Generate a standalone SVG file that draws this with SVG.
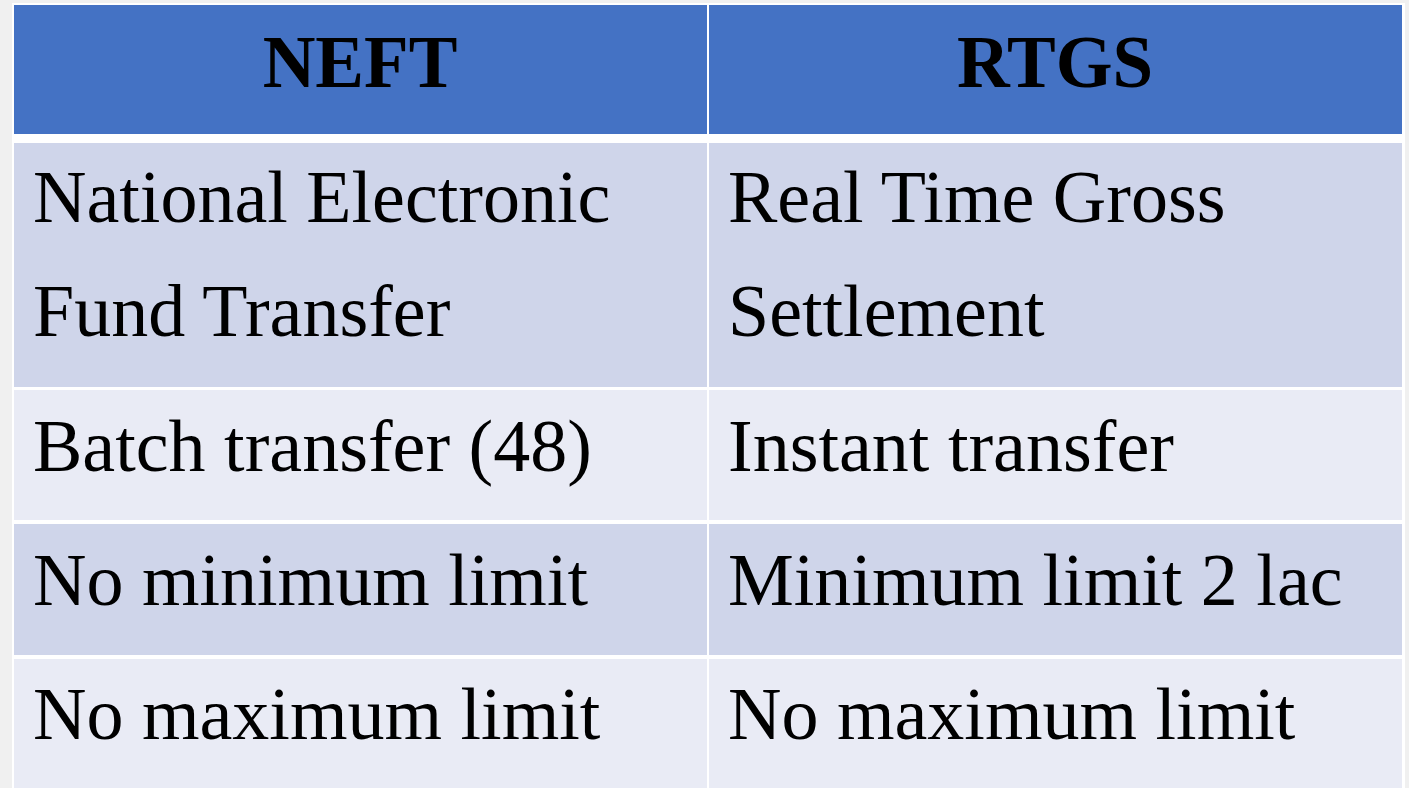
<svg xmlns="http://www.w3.org/2000/svg" width="1409" height="788" viewBox="0 0 1409 788">
<style>
.hd{fill:#4472c4}
.r1{fill:#cfd5ea}
.r2{fill:#e9ebf5}
.th{font-family:"Liberation Serif","Times New Roman",serif;font-weight:bold;font-size:73px;fill:#000;text-anchor:middle}
.td{font-family:"Liberation Serif","Times New Roman",serif;font-size:74px;fill:#000}
</style>
<rect x="0" y="0" width="1409" height="788" fill="#f0f0f0"/>
<rect x="12" y="3" width="1393" height="785" fill="#ffffff"/>
<g id="header">
<rect class="hd" x="14" y="5" width="693" height="129"/>
<rect class="hd" x="709" y="5" width="693" height="129"/>
<text class="th" x="360" y="87">NEFT</text>
<text class="th" x="1055" y="87">RTGS</text>
</g>
<g id="row1">
<rect class="r1" x="14" y="143" width="693" height="244"/>
<rect class="r1" x="709" y="143" width="693" height="244"/>
<text class="td" x="33" y="222">National Electronic</text>
<text class="td" x="33" y="336">Fund Transfer</text>
<text class="td" x="728" y="222">Real Time Gross</text>
<text class="td" x="728" y="336">Settlement</text>
</g>
<g id="row2">
<rect class="r2" x="14" y="390" width="693" height="130"/>
<rect class="r2" x="709" y="390" width="693" height="130"/>
<text class="td" x="33" y="471">Batch transfer (48)</text>
<text class="td" x="728" y="471">Instant transfer</text>
</g>
<g id="row3">
<rect class="r1" x="14" y="524" width="693" height="131"/>
<rect class="r1" x="709" y="524" width="693" height="131"/>
<text class="td" x="33" y="605">No minimum limit</text>
<text class="td" x="728" y="605">Minimum limit 2 lac</text>
</g>
<g id="row4">
<rect class="r2" x="14" y="659" width="693" height="129"/>
<rect class="r2" x="709" y="659" width="693" height="129"/>
<text class="td" x="33" y="739">No maximum limit</text>
<text class="td" x="728" y="739">No maximum limit</text>
</g>
<g id="connectors"/>
</svg>
